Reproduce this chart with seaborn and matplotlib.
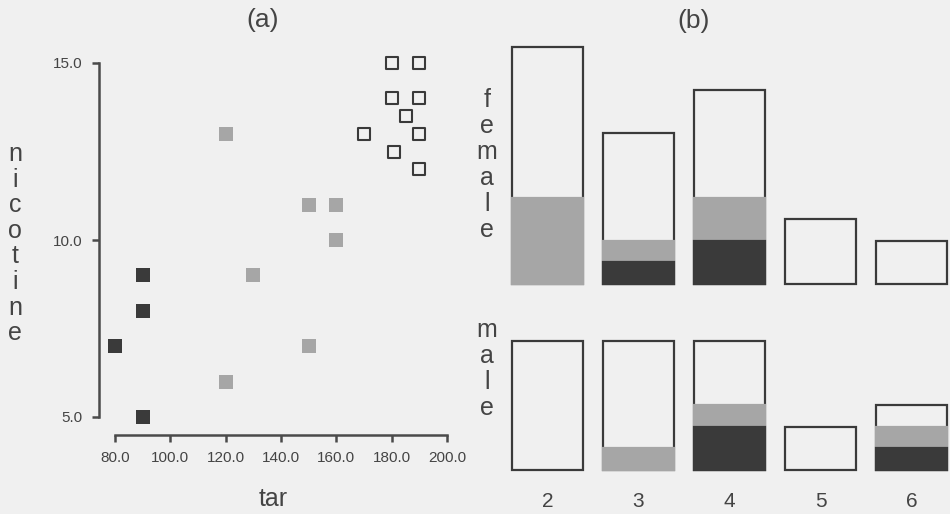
import pandas as pd
import matplotlib.pyplot as plt
import seaborn as sns
from matplotlib.ticker import FormatStrFormatter

# panel (a): tar vs nicotine, three groups of points
black_tar = [90, 90, 80, 90]
black_nic = [9, 8, 7, 5]
gray_tar = [120, 150, 160, 160, 130, 150, 120]
gray_nic = [13, 11, 11, 10, 9, 7, 6]
white_tar = [180, 190, 180, 190, 185, 170, 190, 181, 190]
white_nic = [15, 15, 14, 14, 13.5, 13, 13, 12.5, 12]

x_ticks = [80, 100, 120, 140, 160, 180, 200]
y_ticks = [5, 10, 15]

# panel (b): counts per column, stacked black / gray / white
columns = ['2', '3', '4', '5', '6']
female_black = [0, 1, 2, 0, 0]
female_gray = [4, 1, 2, 0, 0]
female_white = [7, 5, 5, 3, 2]
male_black = [0, 0, 2, 0, 1]
male_gray = [0, 1, 1, 0, 1]
male_white = [6, 5, 3, 2, 1]

BG = '#f0f0f0'
DARK = '#3a3a3a'
GRAY = '#a6a6a6'
INK = '#444444'
W, H = 950, 514

sns.set_theme(style='ticks')
plt.rcParams['font.family'] = ['Liberation Sans', 'DejaVu Sans']
plt.rcParams['text.color'] = INK

fig = plt.figure(figsize=(W / 100, H / 100), dpi=100, facecolor=BG)


def px_axes(left, top, right, bottom):
    """Axes placed by pixel edges (measured from top-left)"""
    ax = fig.add_axes([left / W, 1 - bottom / H, (right - left) / W, (bottom - top) / H])
    ax.set_facecolor('none')
    return ax


def stacked_word(word, x, y0, step, size=18):
    """Write a word vertically, one letter per line"""
    for i, ch in enumerate(word):
        fig.text(x / W, 1 - (y0 + i * step) / H, ch, ha='center', va='baseline',
                 fontsize=size, color=INK)


# ---- (a) scatter ----
ax = px_axes(115, 63, 447, 417)
sns.scatterplot(x=black_tar, y=black_nic, marker='s', s=100, color=DARK,
                edgecolor=DARK, linewidth=0, clip_on=False, ax=ax)
sns.scatterplot(x=gray_tar, y=gray_nic, marker='s', s=88, color=GRAY,
                edgecolor=GRAY, linewidth=0, clip_on=False, ax=ax)
sns.scatterplot(x=white_tar, y=white_nic, marker='s', s=70, color=BG,
                edgecolor=DARK, linewidth=1.5, clip_on=False, ax=ax)
ax.set_xlim(80, 200)
ax.set_ylim(5, 15)
ax.set_xticks(x_ticks)
ax.set_yticks(y_ticks)
ax.xaxis.set_major_formatter(FormatStrFormatter('%.1f'))
ax.yaxis.set_major_formatter(FormatStrFormatter('%.1f'))
sns.despine(ax=ax, offset={'left': 11.5, 'bottom': 13.3})
for side in ['left', 'bottom']:
    ax.spines[side].set_color('#4a4a4a')
    ax.spines[side].set_linewidth(1.8)
ax.tick_params(axis='both', direction='out', length=5, width=1.8, color='#4a4a4a',
               labelsize=11, labelcolor=INK)
ax.tick_params(axis='x', pad=6.5)
ax.tick_params(axis='y', pad=7)

fig.text(263 / W, 1 - 20 / H, '(a)', ha='center', va='center', fontsize=19, color=INK)
fig.text(273 / W, 1 - 499 / H, 'tar', ha='center', va='center', fontsize=18, color=INK)
stacked_word('nicotine', 15, 161, 25.6)


# ---- (b) stacked bars ----
def draw_stack(ax, black, gray, white, top):
    df = pd.DataFrame({'col': columns, 'black': black, 'gray': gray, 'white': white})
    df['low'] = df['black'] + df['gray']
    df['total'] = df['low'] + df['white']
    common = dict(x='col', order=columns, width=0.79, saturation=1, errorbar=None,
                  linewidth=1.6, clip_on=False, ax=ax)
    sns.barplot(data=df, y='total', color=BG, edgecolor=DARK, **common)
    sns.barplot(data=df[df['low'] > 0], y='low', color=GRAY, edgecolor=GRAY, **common)
    sns.barplot(data=df[df['black'] > 0], y='black', color=DARK, edgecolor=DARK, **common)
    ax.set_xlim(-0.42, 4.42)
    ax.set_ylim(0, top)
    ax.set_xlabel('')
    ax.set_ylabel('')
    ax.set_yticks([])
    for s in ax.spines.values():
        s.set_visible(False)


ax_f = px_axes(509.3, 47.3, 949.7, 284)
draw_stack(ax_f, female_black, female_gray, female_white, 11)
ax_f.set_xticks([])

ax_m = px_axes(509.3, 340.8, 949.7, 470)
draw_stack(ax_m, male_black, male_gray, male_white, 6)
ax_m.tick_params(axis='x', length=0, pad=16, labelsize=15, labelcolor=INK)

fig.text(694 / W, 1 - 21 / H, '(b)', ha='center', va='center', fontsize=19, color=INK)
stacked_word('female', 487, 107, 26)
stacked_word('male', 487, 337, 26)

fig.savefig('out.png', dpi=100, facecolor=BG)
